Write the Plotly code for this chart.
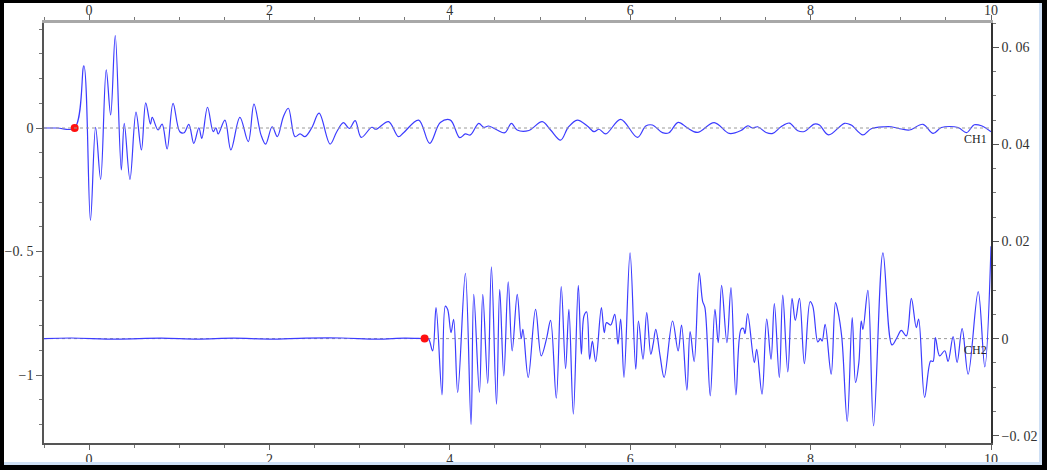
import plotly.graph_objects as go

# ---------------- data ----------------
ch1_x = [-0.5, -0.35, -0.16, -0.058, 0.015, 0.072, 0.128, 0.19, 0.239, 0.29, 0.357, 0.39, 0.453,
         0.52, 0.58, 0.628, 0.68, 0.70, 0.765, 0.81, 0.865, 0.931, 1.006, 1.054, 1.106, 1.161,
         1.217, 1.25, 1.313, 1.376, 1.406, 1.431, 1.506, 1.572, 1.672, 1.765, 1.828, 1.906,
         1.957, 2.03, 2.087, 2.154, 2.209, 2.283, 2.339, 2.394, 2.469, 2.55, 2.672, 2.746,
         2.82, 2.886, 2.95, 3.017, 3.135, 3.18, 3.32, 3.43, 3.487, 3.654, 3.776, 3.894, 4.006,
         4.109, 4.172, 4.228, 4.32, 4.376, 4.43, 4.524, 4.609, 4.683, 4.746, 4.876, 5.024,
         5.117, 5.228, 5.313, 5.413, 5.524, 5.598, 5.654, 5.728, 5.894, 6.08, 6.172, 6.246,
         6.357, 6.43, 6.531, 6.636, 6.746, 6.931, 7.098, 7.228, 7.302, 7.357, 7.413, 7.506,
         7.58, 7.672, 7.764, 7.858, 7.931, 8.042, 8.098, 8.198, 8.376, 8.45, 8.58, 8.672,
         8.82, 8.894, 9.006, 9.098, 9.246, 9.358, 9.45, 9.636, 9.728, 9.814, 9.894, 10.0]
ch1_y = [0.0, 0.0, 0.0, 0.252, -0.374, 0.003, -0.208, 0.235, 0.053, 0.374, -0.17, 0.019, -0.208,
         0.064, -0.089, 0.102, 0.016, 0.043, -0.008, 0.016, -0.085, 0.10, -0.015, -0.019, 0.015,
         -0.062, 0.001, -0.042, 0.084, -0.015, 0.001, -0.024, 0.032, -0.089, 0.043, -0.055, 0.097,
         -0.028, -0.065, 0.005, -0.035, 0.046, 0.08, -0.035, -0.024, -0.035, 0.001, 0.06, -0.065,
         -0.015, 0.022, -0.002, 0.03, -0.038, 0.003, -0.005, 0.026, -0.035, -0.019, 0.032,
         -0.062, 0.022, 0.032, -0.039, -0.024, -0.028, 0.019, 0.003, 0.008, -0.008, -0.019,
         0.019, -0.008, -0.01, 0.026, -0.008, -0.049, 0.003, 0.032, 0.008, -0.015, -0.005,
         -0.024, 0.035, -0.038, 0.008, 0.012, -0.019, -0.019, 0.023, 0.0, -0.018, 0.022, -0.022,
         -0.01, 0.009, 0.0, 0.005, -0.018, -0.022, 0.005, 0.02, -0.011, -0.014, 0.016, 0.012,
         -0.028, 0.019, 0.012, -0.028, -0.003, 0.005, 0.005, -0.004, -0.008, 0.015, -0.022,
         0.002, 0.002, -0.019, 0.013, 0.009, -0.015]

ch2_x = [-0.5, -0.2, 0.3, 0.8, 1.2, 1.6, 2.0, 2.4, 2.8, 3.2, 3.5, 3.717, 3.761, 3.809, 3.847,
         3.913, 3.95, 3.976, 4.013, 4.042, 4.087, 4.172, 4.235, 4.265, 4.328, 4.365, 4.42,
         4.461, 4.517, 4.553, 4.598, 4.647, 4.691, 4.747, 4.791, 4.81, 4.869, 4.95, 5.013,
         5.072, 5.117, 5.18, 5.235, 5.283, 5.32, 5.369, 5.424, 5.458, 5.487, 5.516, 5.55,
         5.58, 5.617, 5.68, 5.712, 5.737, 5.783, 5.828, 5.864, 5.894, 5.931, 5.998, 6.061,
         6.091, 6.142, 6.183, 6.228, 6.254, 6.283, 6.331, 6.376, 6.469, 6.531, 6.569, 6.628,
         6.664, 6.709, 6.765, 6.802, 6.828, 6.887, 6.939, 6.976, 7.013, 7.072, 7.117, 7.172,
         7.228, 7.254, 7.272, 7.302, 7.376, 7.402, 7.461, 7.513, 7.561, 7.598, 7.653, 7.691,
         7.747, 7.794, 7.83, 7.876, 7.931, 7.994, 8.024, 8.08, 8.109, 8.128, 8.161, 8.228,
         8.276, 8.302, 8.346, 8.406, 8.461, 8.498, 8.535, 8.561, 8.58, 8.635, 8.698, 8.802,
         8.902, 8.961, 9.006, 9.061, 9.117, 9.172, 9.198, 9.264, 9.331, 9.357, 9.383, 9.431,
         9.487, 9.524, 9.58, 9.624, 9.68, 9.747, 9.858, 9.931, 10.0]
ch2_y = [0.0, 0.00012, -0.0001, 0.0001, -0.0001, 0.0001, -0.0001, 0.0001, 0.00012, -0.0001,
         0.0001, 0.0, 0.0, -0.00253, 0.00637, -0.01158, 0.0067, 0.006, 0.00123, 0.00397,
         -0.0111, 0.01343, -0.01774, 0.00911, -0.0111, 0.00911, -0.00925, 0.0148, -0.0135,
         0.01014, -0.00767, 0.01171, -0.00253, 0.00911, 0.0, 0.0019, -0.008, 0.006, -0.00356,
         0.0, 0.00377, -0.01226, 0.01069, -0.00617, 0.006, -0.01555, 0.01096, -0.00322,
         0.00466, 0.0055, -0.00425, -0.0005, -0.00473, 0.00637, 0.00123, 0.0033, 0.0028,
         0.005, -0.00116, 0.004, -0.008, 0.01767, -0.0063, 0.00363, -0.00425, 0.00534,
         -0.00322, -0.00116, 0.00192, -0.00356, -0.008, 0.00363, -0.00253, 0.0028, -0.01062,
         0.00144, -0.00473, 0.01356, 0.00774, 0.00637, -0.01178, 0.006, -0.00082, 0.01096,
         -0.00082, 0.01048, -0.01158, 0.00192, 0.0021, 0.001, 0.00514, -0.00493, -0.0022,
         -0.01144, 0.004, -0.00425, 0.00719, -0.008, 0.00897, -0.00685, 0.00829, 0.00377,
         0.00829, -0.00514, 0.0076, 0.0067, -0.00069, 0.0, -0.0005, 0.00295, -0.00733, 0.0074,
         0.0057, 0.0002, -0.01706, 0.00432, -0.00904, -0.0049, 0.00363, 0.0019, 0.00993,
         -0.01795, 0.01767, -0.0013, 0.00034, 0.0017, 0.00055, 0.00829, 0.00226, 0.004,
         -0.01212, -0.00459, -0.0047, 0.0002, -0.00356, -0.0025, -0.0047, 0.0004, -0.0049,
         0.00206, -0.00733, 0.00966, -0.00582, 0.019]

pick_x = [-0.16, 3.72]          # first-arrival picks (red dots)
channel_labels = ["CH1", "CH2"]

x_ticks = [0, 2, 4, 6, 8, 10]
left_ticks = [0, -0.5, -1]
left_ticktext = ["0", "\u22120. 5", "\u22121"]
right_ticks = [0.06, 0.04, 0.02, 0, -0.02]
right_ticktext = ["0. 06", "0. 04", "0. 02", "0", "\u22120. 02"]

# ---------------- figure ----------------
W, H = 1047, 470
ML, MR, MT, MB = 44, 56, 23, 27
PW, PH = W - ML - MR, H - MT - MB

BLUE = "#3c3cff"
FONT = "Liberation Serif"

fig = go.Figure()

# dotted baselines
fig.add_trace(go.Scatter(x=[-0.5, 10], y=[0, 0], xaxis="x2", yaxis="y", mode="lines",
                         line=dict(color="#9a9a9a", width=1, dash="dot"),
                         hoverinfo="skip", showlegend=False))
fig.add_trace(go.Scatter(x=[-0.5, 10], y=[0, 0], xaxis="x", yaxis="y2", mode="lines",
                         line=dict(color="#9a9a9a", width=1, dash="dot"),
                         hoverinfo="skip", showlegend=False))

fig.add_trace(go.Scatter(x=ch1_x, y=ch1_y, xaxis="x", yaxis="y", mode="lines",
                         line=dict(color=BLUE, width=1.2, shape="spline", smoothing=1.0),
                         name=channel_labels[0], showlegend=False))
fig.add_trace(go.Scatter(x=ch2_x, y=ch2_y, xaxis="x", yaxis="y2", mode="lines",
                         line=dict(color=BLUE, width=1.2, shape="spline", smoothing=1.0),
                         name=channel_labels[1], showlegend=False))

fig.add_trace(go.Scatter(x=[pick_x[0]], y=[0], xaxis="x", yaxis="y", mode="markers",
                         marker=dict(color="#ff1010", size=8), showlegend=False))
fig.add_trace(go.Scatter(x=[pick_x[1]], y=[0], xaxis="x", yaxis="y2", mode="markers",
                         marker=dict(color="#ff1010", size=8), showlegend=False))

tickfont = dict(family=FONT, size=14, color="#333333")

common_x = dict(range=[-0.5, 10], showgrid=False, zeroline=False, showline=True,
                automargin=False,
                ticks="outside", tickmode="array", tickvals=x_ticks, ticklen=5, tickwidth=1,
                tickcolor="#666666", tickfont=tickfont,
                minor=dict(tickmode="linear", tick0=0, dtick=0.5, ticklen=3,
                           tickcolor="#777777", ticks="outside"))

fig.update_layout(
    template="none",
    width=W, height=H,
    margin=dict(l=ML, r=MR, t=MT, b=MB, pad=0),
    paper_bgcolor="white", plot_bgcolor="white",
    showlegend=False,
    xaxis=dict(**common_x, side="bottom", anchor="y", linecolor="#555555", linewidth=1.5,
               ticklabelstandoff=-3),
    xaxis2=dict(**common_x, side="top", overlaying="x", anchor="y",
                linecolor="#a8a8a8", linewidth=2.5, ticklabelstandoff=-5),
    yaxis=dict(range=[-1.275, 0.425], showgrid=False, zeroline=False, showline=True,
               automargin=False,
               linecolor="#555555", linewidth=1.5, ticks="outside", ticklen=6,
               tickcolor="#666666", tickmode="array", tickvals=left_ticks,
               ticktext=left_ticktext, tickfont=tickfont,
               minor=dict(tickmode="linear", tick0=0, dtick=0.1, ticklen=3,
                          tickcolor="#777777", ticks="outside")),
    yaxis2=dict(range=[-0.0215, 0.065], overlaying="y", side="right", anchor="x",
                showgrid=False, zeroline=False, showline=True, automargin=False,
                linecolor="#333333", linewidth=1.5, ticks="outside", ticklen=6,
                tickcolor="#555555", tickmode="array", tickvals=right_ticks,
                ticktext=right_ticktext, tickfont=tickfont,
                minor=dict(tickmode="linear", tick0=0, dtick=0.005, ticklen=3,
                           tickcolor="#777777", ticks="outside")),
)

# channel labels
fig.add_annotation(x=10, y=0, xref="x", yref="y", text=channel_labels[0], showarrow=False,
                   xanchor="right", yanchor="top", xshift=-2, yshift=-2,
                   font=dict(family=FONT, size=12, color="#222222"))
fig.add_annotation(x=10, y=0, xref="x", yref="y2", text=channel_labels[1], showarrow=False,
                   xanchor="right", yanchor="top", xshift=-2, yshift=-2,
                   font=dict(family=FONT, size=12, color="#222222"))


# window frame (black border with light inner edge on right/bottom)
def px_x(p):
    return (p - ML) / PW


def px_y(p):
    return (H - MB - p) / PH


def rect(x0, y0, x1, y1, color):
    fig.add_shape(type="rect", xref="paper", yref="paper",
                  x0=px_x(x0), x1=px_x(x1), y0=px_y(y1), y1=px_y(y0),
                  fillcolor=color, line=dict(width=0), layer="above")


rect(1039, 3, 1042, 465, "#cfe0f5")
rect(3, 462, 1042, 465, "#cfe0f5")
rect(0, 0, 4, H, "#000000")
rect(0, 0, W, 3, "#000000")
rect(1042, 0, W, H, "#000000")
rect(0, 465, W, H, "#000000")

fig.write_html("out.html",
               config={"displayModeBar": False},
               post_script="document.body.style.margin='0';"
                           "document.body.style.overflow='hidden';")
